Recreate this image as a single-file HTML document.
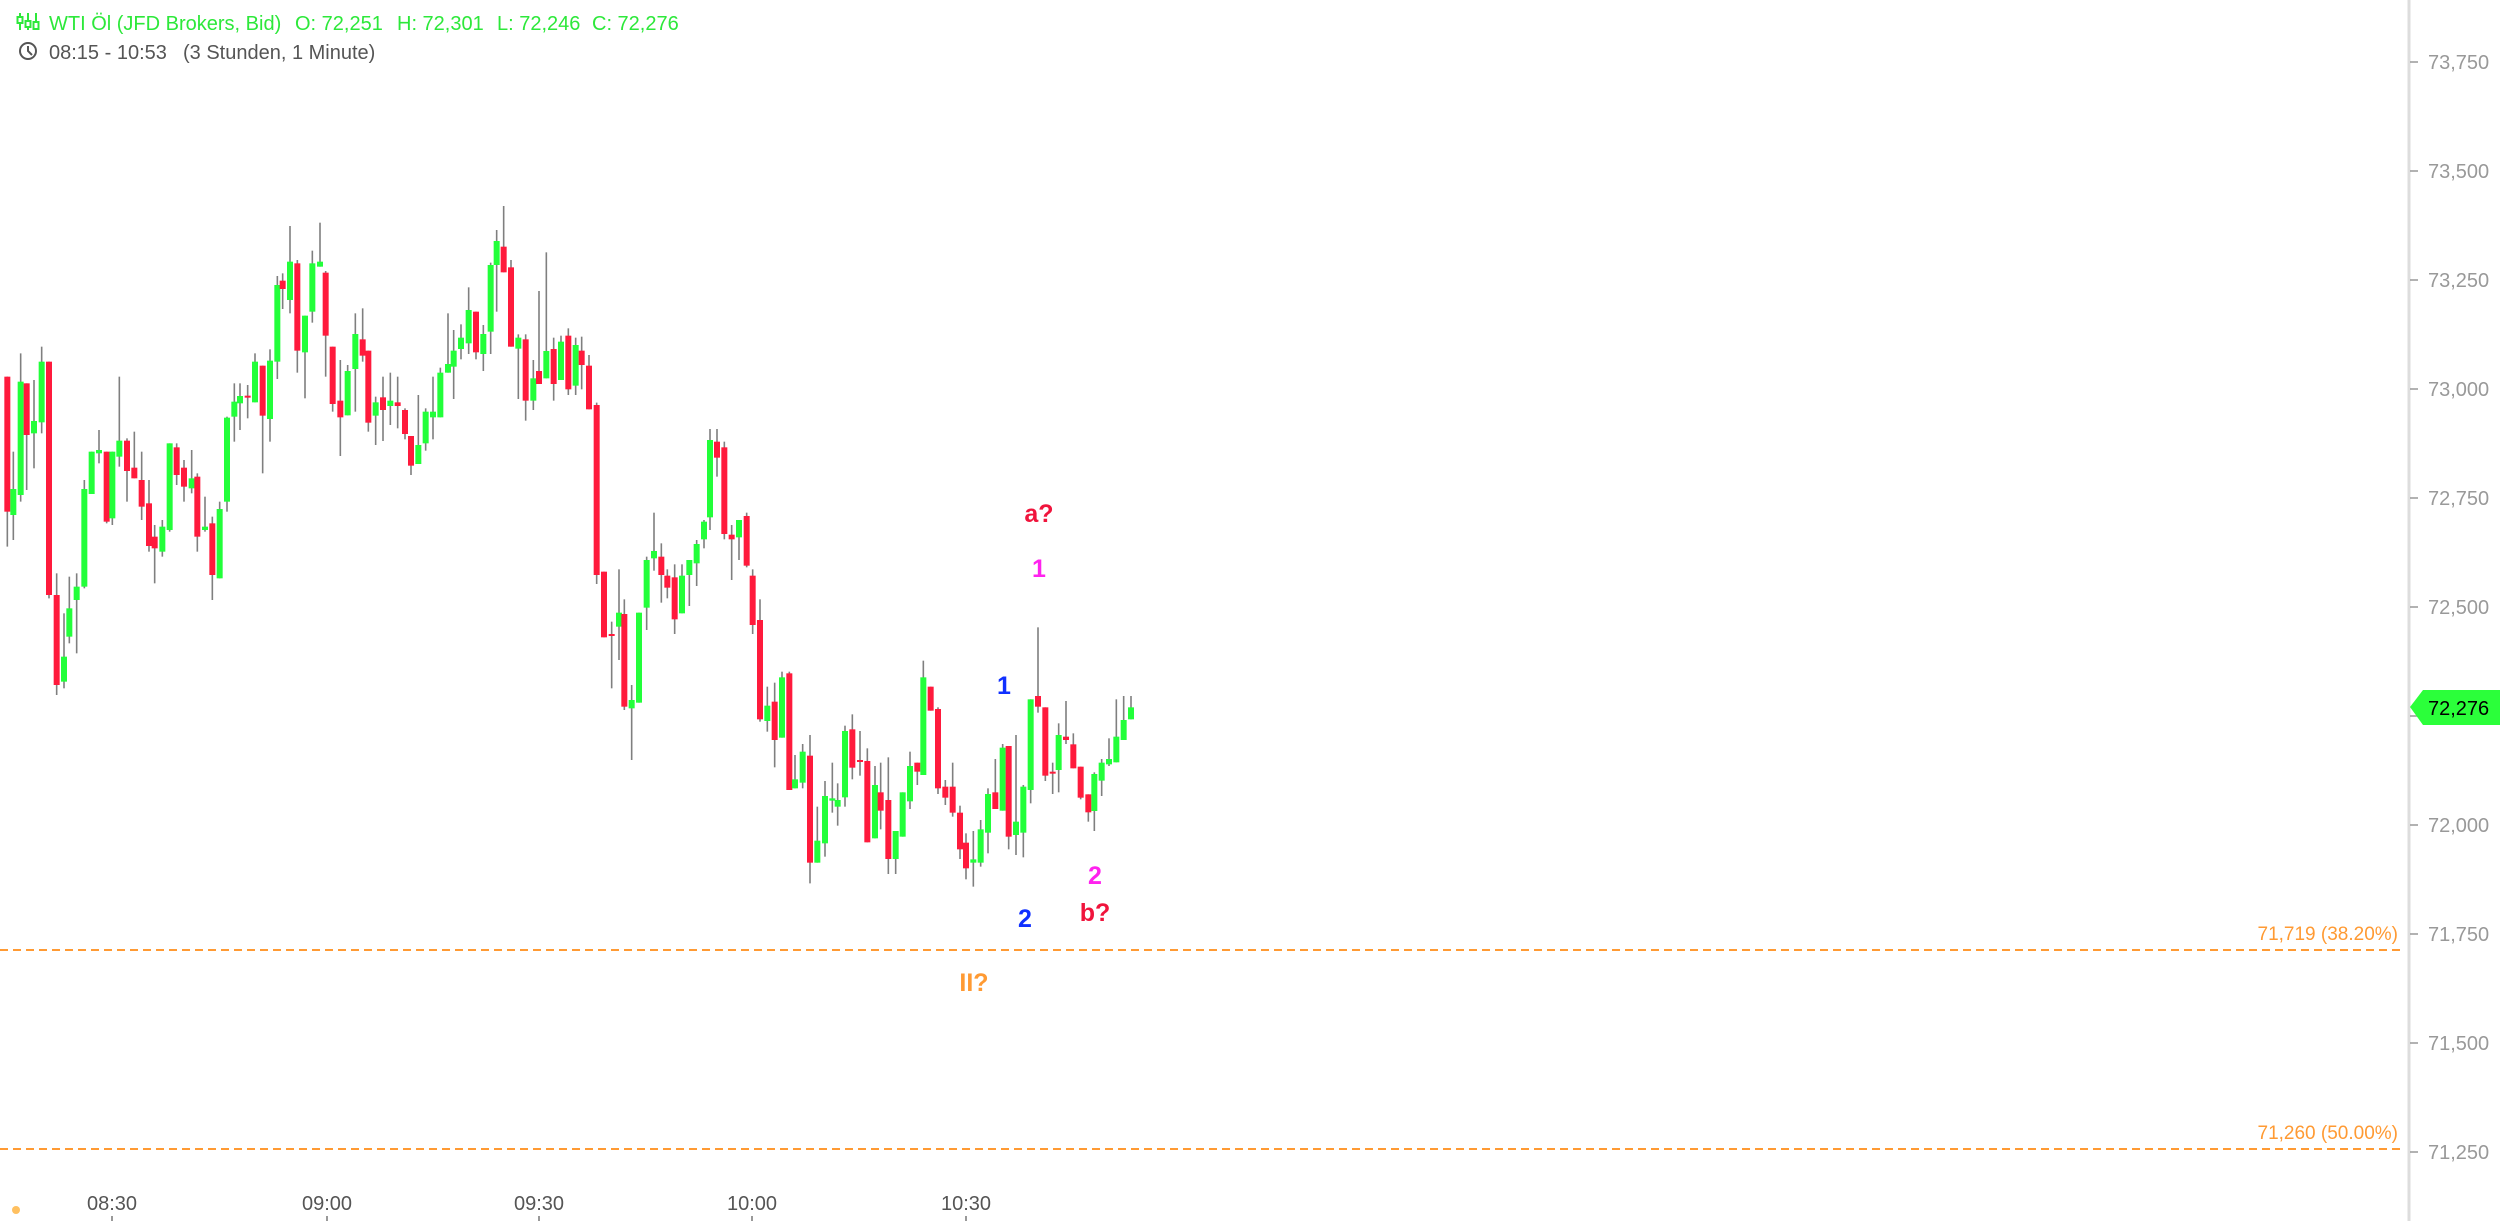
<!DOCTYPE html>
<html><head><meta charset="utf-8">
<style>
html,body{margin:0;padding:0;background:#fff;}
body{width:2500px;height:1221px;overflow:hidden;position:relative;font-family:"Liberation Sans",sans-serif;}
svg{position:absolute;left:0;top:0;}
</style></head>
<body>
<svg id="s" width="2500" height="1221" xmlns="http://www.w3.org/2000/svg" font-family="Liberation Sans, sans-serif">
<!-- header -->
<g stroke="#2de83a" stroke-width="2" fill="none">
<line x1="20" y1="13" x2="20" y2="30"/><rect x="17.5" y="17" width="5" height="6" fill="#fff"/>
<line x1="28" y1="13" x2="28" y2="30"/><rect x="25.5" y="21" width="5" height="6" fill="#fff"/>
<line x1="36" y1="13" x2="36" y2="30"/><rect x="33.5" y="22" width="5" height="7" fill="#fff"/>
</g>
<text y="30" font-size="20" fill="#2de83a"><tspan x="49">WTI Öl (JFD Brokers, Bid)</tspan><tspan x="295">O: 72,251</tspan><tspan x="397">H: 72,301</tspan><tspan x="497">L: 72,246</tspan><tspan x="592">C: 72,276</tspan></text>
<circle cx="28" cy="51" r="8" fill="none" stroke="#555" stroke-width="2"/>
<polyline points="28,46 28,51 32,55" fill="none" stroke="#555" stroke-width="2"/>
<text y="59" font-size="20" fill="#555"><tspan x="49">08:15 - 10:53</tspan><tspan x="183">(3 Stunden, 1 Minute)</tspan></text>

<!-- axis -->
<line x1="2409" y1="0" x2="2409" y2="1221" stroke="#ddd" stroke-width="3"/>
<g id="ticks"></g>
<!-- fib lines -->
<line x1="0" y1="950" x2="2405" y2="950" stroke="#ff9a33" stroke-width="2" stroke-dasharray="8,5"/>
<line x1="0" y1="1149" x2="2405" y2="1149" stroke="#ff9a33" stroke-width="2" stroke-dasharray="8,5"/>
<text x="2398" y="940" font-size="19" fill="#ff9a33" text-anchor="end">71,719 (38.20%)</text>
<text x="2398" y="1139" font-size="19" fill="#ff9a33" text-anchor="end">71,260 (50.00%)</text>
<g id="candles"></g>
<!-- price tag -->
<polygon points="2410,707 2423,690 2500,690 2500,725 2423,725" fill="#2bff3a"/>
<text x="2428" y="715" font-size="20" fill="#000">72,276</text>
<!-- wave labels -->
<g font-weight="bold" font-size="25" text-anchor="middle">
<text x="1039" y="522" fill="#f0143c">a?</text>
<text x="1039" y="577" fill="#ff22ee">1</text>
<text x="1004" y="694" fill="#1030ff">1</text>
<text x="1025" y="927" fill="#1030ff">2</text>
<text x="1095" y="884" fill="#ff22ee">2</text>
<text x="1095" y="921" fill="#f0143c">b?</text>
<text x="974" y="991" fill="#ff9a33">II?</text>
</g>
<!-- time axis -->
<g font-size="20" fill="#555" text-anchor="middle">
<text x="112" y="1210">08:30</text>
<text x="327" y="1210">09:00</text>
<text x="539" y="1210">09:30</text>
<text x="752" y="1210">10:00</text>
<text x="966" y="1210">10:30</text>
</g>
<g stroke="#777" stroke-width="1.5">
<line x1="112" y1="1216" x2="112" y2="1221"/><line x1="327" y1="1216" x2="327" y2="1221"/>
<line x1="539" y1="1216" x2="539" y2="1221"/><line x1="752" y1="1216" x2="752" y2="1221"/>
<line x1="966" y1="1216" x2="966" y2="1221"/>
</g>
<circle cx="16" cy="1210" r="4" fill="#ffc060"/>
</svg>
<script>
var NS="http://www.w3.org/2000/svg";
function el(t,a,p){var e=document.createElementNS(NS,t);for(var k in a)e.setAttribute(k,a[k]);p.appendChild(e);return e;}
var tk=document.getElementById("ticks");
var labs=["73,750","73,500","73,250","73,000","72,750","72,500","72,250","72,000","71,750","71,500","71,250"];
for(var i=0;i<labs.length;i++){var y=62+i*109;
 el("line",{x1:2410,y1:y,x2:2418,y2:y,stroke:"#999","stroke-width":1.5},tk);
 if(labs[i]!="72,250"){var t=el("text",{x:2428,y:y+7,"font-size":20,fill:"#999"},tk);t.textContent=labs[i];}}
var groups=[
{ox:0,oy:190,d:[[22,560,965,560,1070],[40,975,897,785,1050],[62,915,575,490,935],[80,580,735,580,900],[102,730,693,570,835],[125,697,515,470,730],[147,515,1215,515,1225],[170,1215,1485,1150,1515],[192,1475,1400,1270,1495],[208,1340,1255,1160,1360],[230,1230,1190,1150,1390],[253,1190,897,870,1195],[275,912,785,785,912],[297,790,780,720,820],[320,785,995,785,1000],[337,985,785,785,1005],[358,800,752,560,830],[381,752,843,745,935],[403,833,865,725,865],[425,870,950,785,990],[447,940,1068,870,1085],[464,1040,1075,1005,1180],[487,1085,1010,990,1100],[509,1020,760,760,1025],[530,772,855,760,885],[552,833,890,810,935],[575,895,865,780,910],[592,860,1040,850,1085],[615,1020,1010,920,1025],[637,1000,1155,980,1230],[659,1165,957,935,1165],[681,935,683,680,965],[703,680,635,580,755],[720,640,618,580,720],[743,620,620,585,685],[765,637,515,490,637],[788,527,677,527,850],[810,687,512,478,755],[832,515,285,258,567],[848,272,297,250,357]]},
{ox:280,oy:190,d:[[30,330,215,108,370],[52,220,482,210,548],[75,487,377,377,625],[97,365,220,182,398],[120,230,215,98,230],[137,248,437,243,560],[158,470,642,470,665],[181,632,682,510,798],[203,676,543,525,676],[226,537,432,370,665],[248,448,497,355,515],[265,482,698,482,725],[287,677,637,620,765],[309,622,660,560,753],[331,648,632,548,705],[353,637,648,560,715],[375,660,732,655,748],[393,738,827,738,855],[415,822,765,615,822],[437,760,665,655,782],[459,682,665,560,748],[481,682,548,533,682],[504,548,522,370,548],[521,530,482,420,627],[543,477,443,403,508],[566,460,360,292,492],[588,365,487,365,508],[610,492,432,405,543],[632,425,225,218,492],[650,225,153,120,365],[671,170,247,48,247],[693,232,470,210,470],[715,476,443,433,627],[737,448,632,433,692],[760,632,565,510,660],[777,543,582,303,582],[799,565,483,187,565],[821,477,582,443,632],[843,570,455,437,570],[865,437,598,415,615],[887,587,465,443,615]]},
{ox:570,oy:330,d:[[35,62,105,20,178],[57,107,238,75,238],[80,225,735,218,762],[102,725,922,725,922],[125,915,915,875,1075],[147,890,848,718,990],[163,852,1130,808,1140],[185,1135,1110,1065,1290],[207,1118,848,848,1118],[230,833,690,680,900],[252,685,663,548,722],[274,680,735,640,818],[292,737,773,718,805],[314,742,868,703,912],[336,850,737,703,850],[358,735,690,690,828],[380,700,642,630,768],[402,628,575,570,655],[420,562,330,297,600],[441,335,383,297,440],[463,352,612,335,628],[485,614,628,585,750],[507,622,570,570,690],[530,558,707,548,712],[548,737,885,718,912],[570,870,1168,808,1175],[592,1173,1127,1070,1205],[614,1115,1230,1058,1312],[636,1223,1042,1025,1223],[658,1030,1380,1025,1380]]},
{ox:780,oy:680,d:[[45,325,298,225,325],[68,308,215,192,325],[90,227,548,165,610],[112,548,482,380,548],[135,490,348,303,530],[157,362,355,248,398],[173,380,360,310,437],[195,352,153,137,380],[217,148,263,103,298],[240,243,243,153,287]]},
{ox:860,oy:600,d:[[22,483,727,445,727],[45,715,555,498,715],[62,577,632,488,688],[85,600,777,472,822],[107,777,693,693,822],[128,710,577,577,710],[150,604,498,455,627],[172,488,515,488,555],[190,525,232,182,525],[212,260,332,260,332],[234,327,565,322,582],[256,560,593,540,615],[278,560,638,488,650],[300,638,748,617,777],[318,728,805,700,838],[340,788,778,693,860],[362,788,688,660,800],[384,698,582,565,760],[406,577,627,477,627],[428,632,443,432,632],[446,438,710,438,748],[468,705,665,405,765],[490,698,560,555,772],[512,570,298,298,610],[534,288,320,82,338],[556,322,527,322,543],[578,518,518,488,582],[596,510,405,370,577],[618,410,420,303,432],[640,433,505,400,505],[662,500,593,500,598],[685,583,637,583,665],[703,633,522,517,693],[725,542,488,477,588],[747,493,477,415,498],[769,487,410,298,487],[791,420,360,288,420],[813,358,322,288,358]]}
];
var cg=document.getElementById("candles");
groups.forEach(function(g){g.d.forEach(function(c){
 var x=g.ox+c[0]/3,o=g.oy+c[1]/3,cl=g.oy+c[2]/3,h=g.oy+c[3]/3,l=g.oy+c[4]/3;
 var green=cl<o-0.01;
 el("line",{x1:x,y1:Math.min(h,o,cl),x2:x,y2:Math.max(l,o,cl),stroke:"#7f7f7f","stroke-width":1.6},cg);
 var top=Math.min(o,cl),ht=Math.max(Math.abs(o-cl),2);
 el("rect",{x:x-3,y:top-(ht==2&&Math.abs(o-cl)<2?1:0),width:6,height:ht,fill:green?"#22ff3a":"#ff1a3c"},cg);
});});
</script>
</body></html>
